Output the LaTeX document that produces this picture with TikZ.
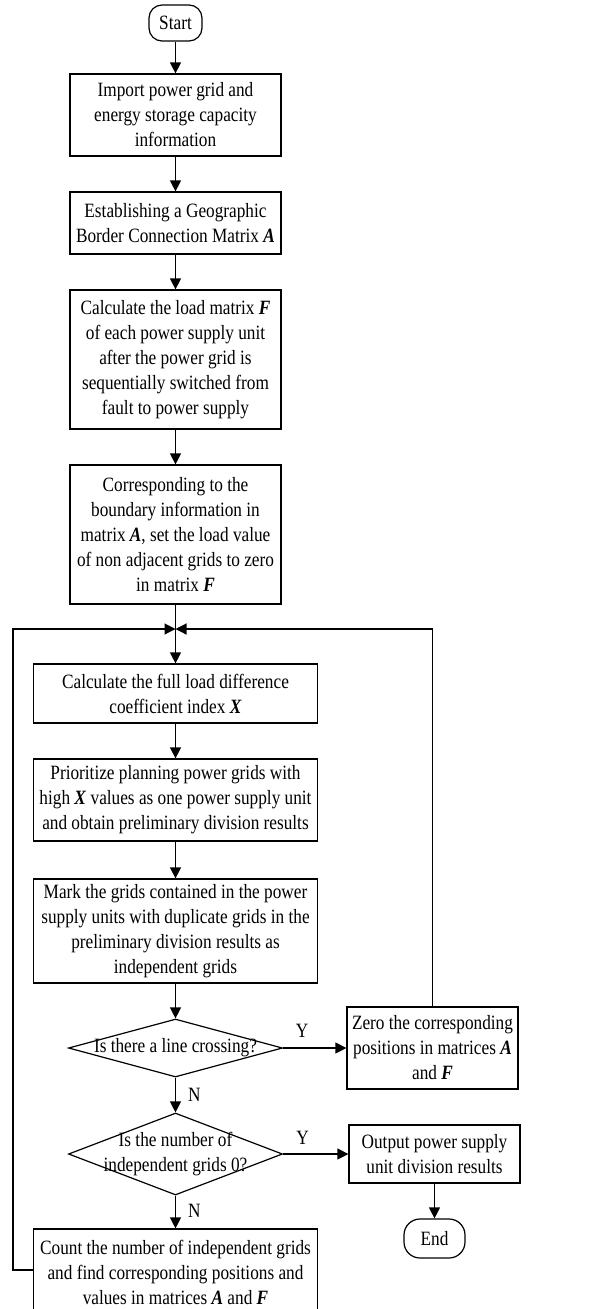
\documentclass[tikz,border=0pt]{standalone}
\usepackage{fontspec}
\setmainfont[FakeStretch=0.85]{Liberation Serif}
\usetikzlibrary{arrows.meta,shapes.geometric}
\newcommand{\bi}[1]{\textbf{\textit{#1}}}
\begin{document}
\begin{tikzpicture}[x=1pt,y=-1pt,
  line width=1.2pt,
  every node/.style={font=\fontsize{20.3}{25}\selectfont},
  box/.style={draw, rectangle, inner sep=0pt, align=center},
  term/.style={draw, rectangle, rounded corners=13pt, inner sep=0pt, align=center},
  dia/.style={draw, diamond, inner sep=0pt},
  arr/.style={-{Triangle[length=11pt,width=11pt]}},
  lbl/.style={inner sep=0pt}]
\useasboundingbox (0,0) rectangle (612,1309);

\node[term, minimum width=53pt, minimum height=36pt] (start) at (175.5,23) {Start};
\node[box, minimum width=211pt, minimum height=82pt] (b1) at (175.5,115) {Import power grid and\\energy storage capacity\\information};
\node[box, minimum width=211pt, minimum height=62pt] (b2) at (175.5,223) {Establishing a Geographic\\Border Connection Matrix \bi{A}};
\node[box, minimum width=211pt, minimum height=139pt] (b3) at (175.5,359.5) {Calculate the load matrix \bi{F}\\of each power supply unit\\after the power grid is\\sequentially switched from\\fault to power supply};
\node[box, minimum width=211pt, minimum height=139pt] (b4) at (175.5,534.5) {Corresponding to the\\boundary information in\\matrix \bi{A}, set the load value\\of non adjacent grids to zero\\in matrix \bi{F}};
\coordinate (junc) at (175.5,629);
\node[box, minimum width=284pt, minimum height=59pt] (b5) at (175.5,693.5) {Calculate the full load difference\\coefficient index \bi{X}};
\node[box, minimum width=284pt, minimum height=82pt] (b6) at (175.5,800) {Prioritize planning power grids with\\high \bi{X} values as one power supply unit\\and obtain preliminary division results};
\node[box, minimum width=284pt, minimum height=104pt] (b7) at (175.5,931) {Mark the grids contained in the power\\supply units with duplicate grids in the\\preliminary division results as\\independent grids};
\node[dia, minimum width=214pt, minimum height=58pt] (d1) at (175.5,1048) {};
\node[lbl] (d1t) at (175.5,1048) {Is there a line crossing?};
\node[box, minimum width=171pt, minimum height=82pt] (zero) at (432.5,1048) {Zero the corresponding\\positions in matrices \bi{A}\\and \bi{F}};
\node[dia, minimum width=214pt, minimum height=82pt] (d2) at (175.5,1154) {};
\node[lbl, align=center] (d2t) at (175.5,1154) {Is the number of\\independent grids 0?};
\node[box, minimum width=171pt, minimum height=58pt] (out) at (434.5,1154) {Output power supply\\unit division results};
\node[term, minimum width=61pt, minimum height=39pt, rounded corners=16pt] (end) at (434.5,1238.5) {End};
\node[box, minimum width=284pt, minimum height=86pt] (cnt) at (175.5,1272) {Count the number of independent grids\\and find corresponding positions and\\values in matrices \bi{A} and \bi{F}};
\coordinate (lft) at (13,1270);

\draw[arr] (start) -- (b1);
\draw[arr] (b1) -- (b2);
\draw[arr] (b2) -- (b3);
\draw[arr] (b3) -- (b4);
\draw[arr] (b4) -- (b5);
\draw[arr] (b5) -- (b6);
\draw[arr] (b6) -- (b7);
\draw[arr] (b7) -- (d1);
\draw[arr] (d1) -- node[lbl, right, xshift=12pt, pos=0.5] (n1) {N} (d2);
\draw[arr] (d2) -- node[lbl, right, xshift=12pt, pos=0.45] (n2) {N} (cnt);
\draw[arr] (d1.east) -- node[lbl, above, yshift=10pt, pos=0.3] (y1) {Y} (zero.west);
\draw[arr] (d2.east) -- node[lbl, above, yshift=9pt, pos=0.3] (y2) {Y} (out.west);
\draw[arr] (out) -- (end);
\draw[arr] (zero.north) |- (junc);
\draw[arr] (cnt.west |- lft) -- (lft) |- (junc);
\end{tikzpicture}
\end{document}
